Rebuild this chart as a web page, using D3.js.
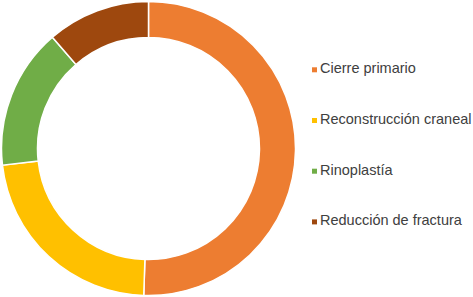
<!DOCTYPE html>
<html>
<head>
<meta charset="utf-8">
<script src="https://cdn.jsdelivr.net/npm/d3@7/dist/d3.min.js"></script>
<style>
  html, body { margin: 0; padding: 0; background: #fff; }
  svg { display: block; }
</style>
</head>
<body>
<div id="chart"></div>
<script>
const categories = ['Cierre primario', 'Reconstrucción craneal', 'Rinoplastía', 'Reducción de fractura'];
const values = [49, 22, 15, 11];
const colors = ['#ED7D31', '#FFC000', '#70AD47', '#9E480E'];

const width = 473, height = 297;
const cx = 148.5, cy = 148.5;
const outerR = 147, innerR = 111;

const svg = d3.select('#chart').append('svg')
  .attr('width', width)
  .attr('height', height);

const data = categories.map((c, i) => ({ name: c, value: values[i], color: colors[i] }));

const pie = d3.pie()
  .sort(null)
  .value(d => d.value);

const arc = d3.arc()
  .innerRadius(innerR)
  .outerRadius(outerR);

svg.append('g')
  .attr('transform', `translate(${cx},${cy})`)
  .selectAll('path')
  .data(pie(data))
  .enter()
  .append('path')
  .attr('d', arc)
  .attr('fill', d => d.data.color)
  .attr('stroke', '#fff')
  .attr('stroke-width', 1.5);

// legend
const legendY = d3.scalePoint()
  .domain(categories)
  .range([73.3, 225.4]);

const legend = svg.append('g').attr('class', 'legend');

const items = legend.selectAll('.legend-item')
  .data(data)
  .enter()
  .append('g')
  .attr('class', 'legend-item')
  .attr('transform', d => `translate(312, ${legendY(d.name)})`);

items.append('rect')
  .attr('x', 0)
  .attr('y', -6)
  .attr('width', 5)
  .attr('height', 5)
  .attr('fill', d => d.color);

items.append('text')
  .attr('x', 8)
  .attr('y', 0)
  .style('font-family', 'Arial, "Liberation Sans", sans-serif')
  .style('font-size', '14.5px')
  .style('fill', '#404040')
  .text(d => d.name);
</script>
</body>
</html>
